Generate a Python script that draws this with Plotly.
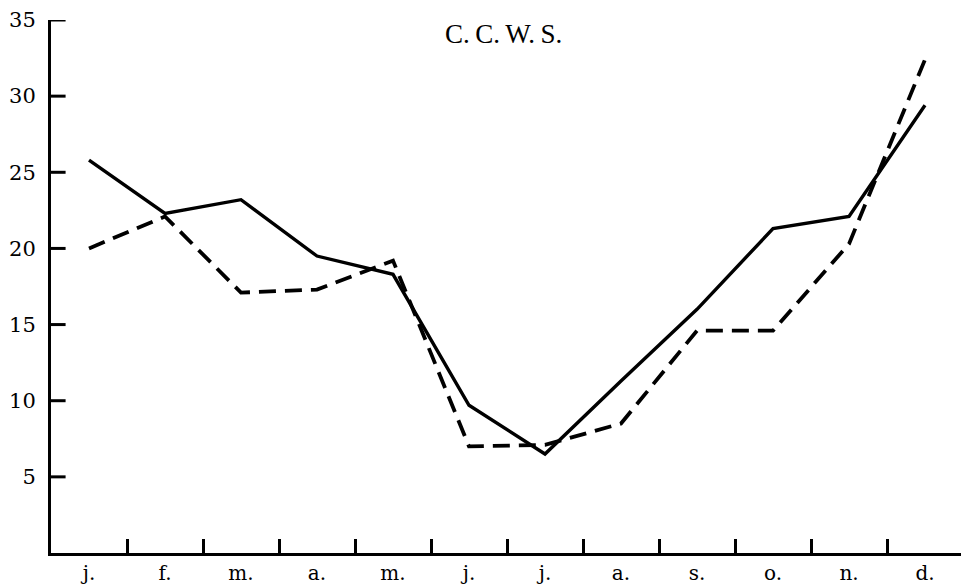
import plotly.graph_objects as go

months = ["j.", "f.", "m.", "a.", "m.", "j.", "j.", "a.", "s.", "o.", "n.", "d."]
month_pos = [0.5, 1.5, 2.5, 3.5, 4.5, 5.5, 6.5, 7.5, 8.5, 9.5, 10.5, 11.5]
boundaries = [1, 2, 3, 4, 5, 6, 7, 8, 9, 10, 11, 12]
solid_vals = [25.8, 22.3, 23.2, 19.5, 18.3, 9.7, 6.5, 11.3, 16.0, 21.3, 22.1, 29.4]
dashed_vals = [20.0, 22.1, 17.1, 17.3, 19.2, 7.0, 7.1, 8.5, 14.6, 14.6, 20.3, 32.4]
y_ticks = [5, 10, 15, 20, 25, 30, 35]
title_text = "C.\u2009C.\u2009W.\u2009S."

fig = go.Figure()
fig.add_trace(go.Scatter(x=month_pos, y=solid_vals, mode="lines",
                         line=dict(color="black", width=3.4), showlegend=False))
fig.add_trace(go.Scatter(x=month_pos, y=dashed_vals, mode="lines",
                         line=dict(color="black", width=3.8, dash="17px,9px"), showlegend=False))

# inward y tick marks, placed on the y scale
tick_shapes = [dict(type="line", xref="x domain", yref="y", x0=0, x1=0.016,
                    y0=v, y1=v, line=dict(color="black", width=3), layer="above")
               for v in y_ticks]

# the page body has an 8px margin, so the figure is sized to fit the window
fig.update_layout(
    width=961, height=576,
    margin=dict(l=43, r=6, t=12, b=31, autoexpand=False),
    paper_bgcolor="white", plot_bgcolor="white",
    font=dict(family="DejaVu Serif", color="black", size=21),
    shapes=tick_shapes,
    annotations=[dict(text=title_text, x=5.95, xref="x", y=34.1, yref="y",
                      xanchor="center", yanchor="middle", showarrow=False,
                      font=dict(family="Liberation Serif", size=27, color="black"))],
)
fig.update_xaxes(
    range=[0, 12], showgrid=False, zeroline=False, automargin=False,
    showline=True, linecolor="black", linewidth=3,
    tickmode="array", tickvals=month_pos, ticktext=months, ticks="",
    tickfont=dict(family="DejaVu Serif", size=20),
    minor=dict(tickmode="array", tickvals=boundaries, ticks="inside",
               ticklen=14, tickwidth=3, tickcolor="black", showgrid=False),
)
fig.update_yaxes(
    range=[0, 35], showgrid=False, zeroline=False, automargin=False,
    showline=True, linecolor="black", linewidth=3,
    tickmode="array", tickvals=y_ticks, ticks="",
    ticklabelstandoff=8,
    tickfont=dict(family="DejaVu Serif", size=21),
)
fig.write_html("out.html")
